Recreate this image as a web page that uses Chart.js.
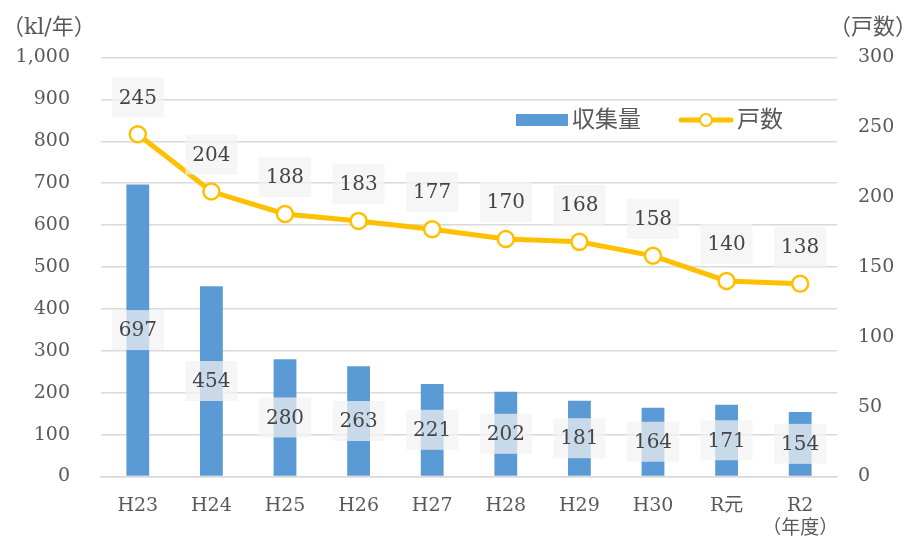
<!DOCTYPE html>
<html lang="ja">
<head>
<meta charset="utf-8">
<script src="https://cdn.jsdelivr.net/npm/chart.js@4.4.1/dist/chart.umd.min.js"></script>
<style>
  html, body { margin: 0; padding: 0; background: #fff; }
  #wrap { width: 912px; height: 541px; }
</style>
</head>
<body>
<div id="wrap"><canvas id="chart" width="912" height="541"></canvas></div>
<script>
/* 収集量 (kl/年) と 戸数 の推移 */
const years = ['H23', 'H24', 'H25', 'H26', 'H27', 'H28', 'H29', 'H30', 'R元', ['R2', '（年度）']];
const volume = [697, 454, 280, 263, 221, 202, 181, 164, 171, 154];
const households = [245, 204, 188, 183, 177, 170, 168, 158, 140, 138];

const FONT = '"DejaVu Serif", "Noto Sans CJK JP", serif';
const BLUE = '#5B9BD5';
const GOLD = '#FFC000';
const GRID = '#D9D9D9';

/* gray boxes with the value, on bar middles and above line points */
const valueLabels = {
  id: 'valueLabels',
  afterDatasetsDraw(chart) {
    const ctx = chart.ctx;
    ctx.save();
    ctx.font = '20px ' + FONT;
    ctx.textAlign = 'center';
    ctx.textBaseline = 'middle';
    chart.data.datasets.forEach((ds, di) => {
      chart.getDatasetMeta(di).data.forEach((el, i) => {
        let x = el.x, y;
        if (ds.type === 'bar') y = (el.y + el.base) / 2;
        else y = el.y - 37;
        ctx.fillStyle = 'rgba(242,242,242,0.72)';
        ctx.fillRect(x - 26, y - 20, 52, 40);
        ctx.fillStyle = '#454545';
        ctx.fillText(ds.data[i], x, y + 1);
      });
    });
    ctx.restore();
  }
};

/* axis unit captions and the in-plot legend */
const extras = {
  id: 'extras',
  afterDraw(chart) {
    const ctx = chart.ctx;
    ctx.save();
    ctx.fillStyle = '#595959';
    ctx.font = '22px ' + FONT;
    ctx.textBaseline = 'middle';
    ctx.textAlign = 'left';
    ctx.fillText('（kl/年）', 2, 28);
    ctx.fillText('（戸数）', 829, 28);

    // legend
    ctx.fillStyle = BLUE;
    ctx.fillRect(516, 114, 52, 12);
    ctx.font = '23px ' + FONT;
    ctx.fillStyle = '#595959';
    ctx.fillText('収集量', 572, 121);

    ctx.strokeStyle = GOLD;
    ctx.lineWidth = 5;
    ctx.lineCap = 'round';
    ctx.beginPath();
    ctx.moveTo(681, 120);
    ctx.lineTo(731, 120);
    ctx.stroke();
    ctx.beginPath();
    ctx.arc(706, 120, 6, 0, Math.PI * 2);
    ctx.fillStyle = '#fff';
    ctx.fill();
    ctx.lineWidth = 2;
    ctx.stroke();
    ctx.fillStyle = '#595959';
    ctx.fillText('戸数', 737, 121);
    ctx.restore();
  }
};

new Chart(document.getElementById('chart'), {
  data: {
    labels: years,
    datasets: [
      {
        type: 'line',
        label: '戸数',
        data: households,
        yAxisID: 'y2',
        borderColor: GOLD,
        borderWidth: 5,
        pointRadius: 8,
        pointBorderWidth: 2.5,
        pointBackgroundColor: '#fff',
        pointBorderColor: GOLD,
        tension: 0,
        order: 1
      },
      {
        type: 'bar',
        label: '収集量',
        data: volume,
        yAxisID: 'y',
        backgroundColor: BLUE,
        categoryPercentage: 1,
        barPercentage: 0.31,
        order: 2
      }
    ]
  },
  options: {
    responsive: false,
    animation: false,
    layout: { padding: { top: 57.5, left: 0, right: 0, bottom: 0 } },
    plugins: {
      legend: { display: false },
      tooltip: { enabled: false }
    },
    scales: {
      x: {
        grid: { display: false },
        border: { color: GRID, width: 1.5 },
        ticks: { color: '#595959', font: { family: FONT, size: 19 }, padding: 10, maxRotation: 0, autoSkip: false },
        afterFit(s) { s.height = 64.5; }
      },
      y: {
        position: 'left',
        min: 0,
        max: 1000,
        border: { display: false },
        grid: { color: GRID, lineWidth: 1.5, drawTicks: false },
        ticks: {
          stepSize: 100,
          padding: 31,
          color: '#595959',
          font: { family: FONT, size: 19 },
          callback: v => v.toLocaleString('en-US')
        },
        afterFit(s) { s.width = 101; }
      },
      y2: {
        position: 'right',
        min: 0,
        max: 300,
        border: { display: false },
        grid: { display: false, drawTicks: false },
        ticks: {
          stepSize: 50,
          padding: 21,
          color: '#595959',
          font: { family: FONT, size: 19 }
        },
        afterFit(s) { s.width = 75; }
      }
    }
  },
  plugins: [valueLabels, extras]
});
</script>
</body>
</html>
